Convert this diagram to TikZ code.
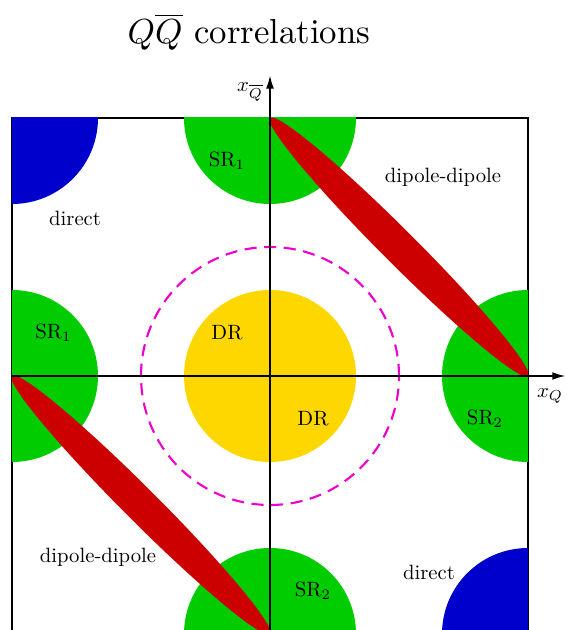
\documentclass[tikz,border=0pt]{standalone}
\usetikzlibrary{arrows.meta}
\definecolor{srgreen}{RGB}{0,204,0}
\definecolor{dirblue}{RGB}{0,0,204}
\definecolor{drgold}{RGB}{255,215,0}
\definecolor{ddred}{RGB}{204,0,0}
\definecolor{dashmag}{RGB}{238,0,204}
\begin{document}
\begin{tikzpicture}[
  lbl/.style={inner sep=0pt, scale=0.685, transform shape},
  ttl/.style={inner sep=0pt, scale=1.15, transform shape},
  frame/.style={line width=0.7pt},
  axis/.style={line width=0.7pt, -{Latex[length=4.5pt,width=2.6pt]}},
  srfill/.style={fill=srgreen},
  dirfill/.style={fill=dirblue},
  drfill/.style={fill=drgold},
  ddfill/.style={fill=ddred},
  ring/.style={dashmag, line width=0.7pt, dash pattern=on 4pt off 2.5pt}
]
\useasboundingbox (-3.1395,-2.9535) rectangle (3.4419,4.3721);
% frame
\draw[frame] (-3,-3) rectangle (3,3);
\begin{scope}
  \clip (-3,-3) rectangle (3,3);
  % SR regions
  \fill[srfill] (0,3) circle (1);
  \fill[srfill] (0,-3) circle (1);
  \fill[srfill] (-3,0) circle (1);
  \fill[srfill] (3,0) circle (1);
  % direct regions
  \fill[dirfill] (-3,3) circle (1);
  \fill[dirfill] (3,-3) circle (1);
  % DR region
  \fill[drfill] (0,0) circle (1);
  % dipole-dipole
  \fill[ddfill, rotate around={-45:(1.5,1.5)}] (1.5,1.5) ellipse ({1.5*sqrt(2)} and 0.195);
  \fill[ddfill, rotate around={-45:(-1.5,-1.5)}] (-1.5,-1.5) ellipse ({1.5*sqrt(2)} and 0.195);
\end{scope}
% dashed ring
\draw[ring] (0,0) circle (1.5);
% axes
\coordinate (xs) at (-3,0);
\coordinate (xe) at (3.44,0);
\coordinate (ys) at (0,-3);
\coordinate (ye) at (0,3.5);
\draw[axis] (xs) -- (xe);
\draw[axis] (ys) -- (ye);
\node[lbl] (xq) at (3.256,-0.233) {$x_Q$};
\node[lbl] (xqb) at (-0.233,3.30) {$x_{\overline{Q}}$};
% labels
\node[lbl] (sr1t) at (-0.5,2.5) {SR$_1$};
\node[lbl] (sr1l) at (-2.52,0.5) {SR$_1$};
\node[lbl] (sr2r) at (2.5,-0.5) {SR$_2$};
\node[lbl] (sr2b) at (0.5,-2.5) {SR$_2$};
\node[lbl] (dr1) at (-0.5,0.5) {DR};
\node[lbl] (dr2) at (0.5,-0.5) {DR};
\node[lbl] (dirtl) at (-2.267,1.837) {direct};
\node[lbl] (dirbr) at (1.849,-2.279) {direct};
\node[lbl] (ddtr) at (2.012,2.314) {dipole-dipole};
\node[lbl] (ddbl) at (-2.0,-2.105) {dipole-dipole};
\node[ttl] (title) at (-0.244,4.0) {$Q\overline{Q}$ correlations};
\end{tikzpicture}
\end{document}
